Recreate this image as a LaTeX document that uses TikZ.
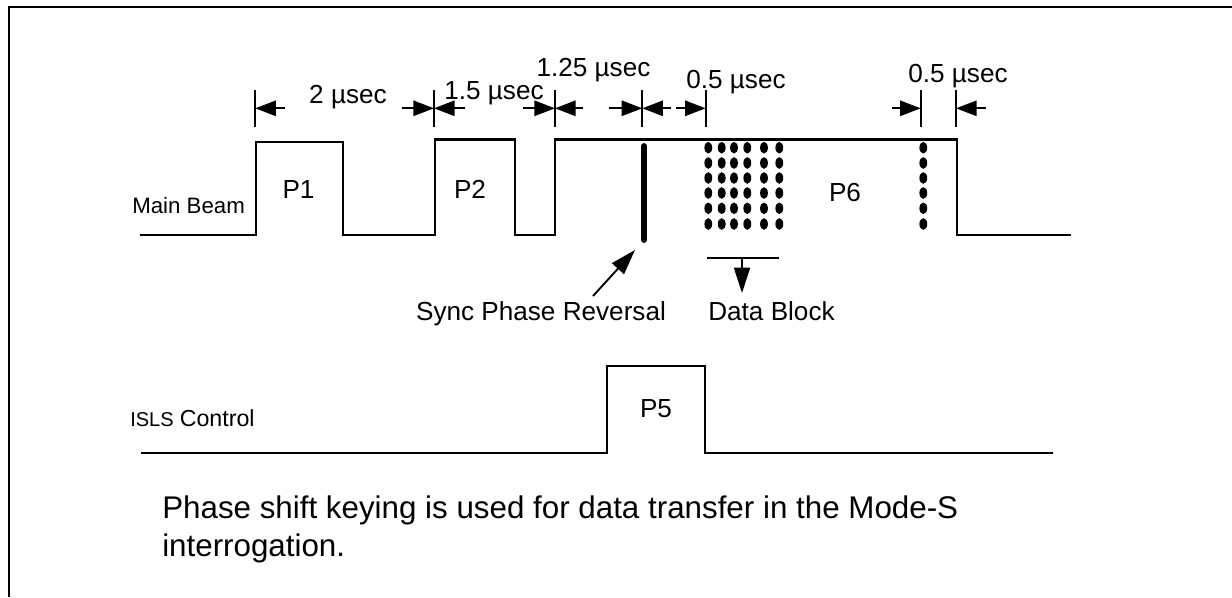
\documentclass[tikz,border=0pt]{standalone}
\usepackage{fontspec}
\setmainfont{Liberation Sans}
\usetikzlibrary{arrows.meta}
\tikzset{
  waveline/.style={draw=black, line width=1.7pt, line join=miter},
  dimtick/.style={draw=black, line width=1.4pt},
  dimarrow/.style={-{Triangle[length=15.5pt, width=11.5pt]}, draw=black, line width=1.4pt},
  leadarrow/.style={-{Triangle[length=19pt, width=12pt]}, draw=black, line width=1.4pt},
  dimlabel/.style={anchor=base, inner sep=0pt, font=\fontsize{19.6}{23}\selectfont},
  tracelabel/.style={anchor=base west, inner sep=0pt, font=\fontsize{16.7}{20}\selectfont},
  bodytext/.style={anchor=north west, inner sep=0pt, align=left, font=\fontsize{23.5}{28.5}\selectfont}
}
\begin{document}
\begin{tikzpicture}[x=0.75pt, y=-0.75pt]
\useasboundingbox (0,0) rectangle (1232,597);
% frame
\coordinate (framebl) at (8.5,597);
\coordinate (frametl) at (8.5,7);
\coordinate (frametr) at (1232,7);
\draw[line width=1.5pt, line join=miter] (framebl) -- (frametl) -- (frametr);
% traces
\draw[waveline] (140,235) -- (256,235) -- (256,142) -- (343,142) -- (343,235) -- (435,235) -- (435,139.5) -- (515,139.5) -- (515,235) -- (555,235) -- (555,139.5) -- (957,139.5) -- (957,235) -- (1071,235);
\draw[waveline] (141,453) -- (607,453) -- (607,366) -- (705,366) -- (705,453) -- (1053,453);
% dimension ticks
\foreach \name/\xpos in {ta/255.3, tb/434, tc/555, td/642.3, te/705.7, tf/920.7, tg/956} {
  \coordinate (\name) at (\xpos,108.3);
  \draw[dimtick] (\xpos,90) -- (\xpos,127);
}
\foreach \tick/\xfrom in {ta/285, tb/402, tb/465, tc/523, tc/583, td/609, td/671, te/676, tf/892, tg/986} {
  \coordinate (tail) at (\xfrom,108.3);
  \draw[dimarrow] (tail) -- (\tick);
}
% dimension labels
\node[dimlabel] (lbltwo) at (348,103) {2 µsec};
\node[dimlabel] (lblonefive) at (494,99) {1.5 µsec};
\node[dimlabel] (lbloneqtr) at (593.5,76.7) {1.25 µsec};
\node[dimlabel] (lblhalfa) at (736,88) {0.5 µsec};
\node[dimlabel] (lblhalfb) at (958,82) {0.5 µsec};
% pulses
\node[dimlabel] (pone) at (298.5,198) {P1};
\node[dimlabel] (ptwo) at (470,198) {P2};
\node[dimlabel] (psix) at (845,201.7) {P6};
\node[dimlabel] (pfive) at (656,417) {P5};
\node[tracelabel] (mainbeam) at (132,213) {Main Beam};
\node[tracelabel] (isls) at (130,426.5) {{\fontsize{15}{18}\selectfont ISLS} {\fontsize{17.4}{20}\selectfont Control}};
% sync bar
\coordinate (synctop) at (644,146.5);
\coordinate (syncbot) at (644,239.5);
\draw[line width=5.2pt, line cap=round] (synctop) -- (syncbot);
\node[dimlabel] (synclbl) at (541,320.7) {Sync Phase Reversal};
\coordinate (synctail) at (593,296);
\coordinate (synctip) at (635,250);
\draw[leadarrow] (synctail) -- (synctip);
% data dots
\foreach \xpos in {708.3,721.7,734,747.3,764,779.3,923.3} {
  \foreach \ypos in {147.7,163,178,193,208.3,224} {
    \fill (\xpos,\ypos) ellipse [x radius=3.9, y radius=5.8];
  }
}
\coordinate (dataleft) at (707,258.3);
\coordinate (dataright) at (779,258.3);
\coordinate (datamid) at (742,258.3);
\draw[dimtick] (dataleft) -- (dataright);
\node[dimlabel] (datalbl) at (771.5,320.7) {Data Block};
\coordinate (datatip) at (742,293);
\draw[leadarrow] (datamid) -- (datatip);
% note
\node[bodytext] (note) at (162,496) {Phase shift keying is used for data transfer in the Mode-S\\interrogation.};
\end{tikzpicture}
\end{document}
